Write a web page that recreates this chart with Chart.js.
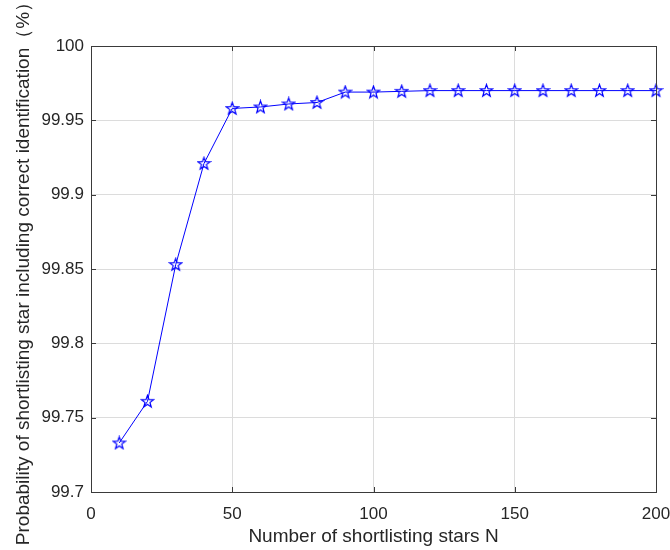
<!DOCTYPE html>
<html>
<head>
<meta charset="utf-8">
<script src="https://cdn.jsdelivr.net/npm/chart.js@4.4.0/dist/chart.umd.min.js"></script>
<style>
  html, body { margin: 0; padding: 0; background: #fff; }
  #wrap { width: 670px; height: 550px; }
</style>
</head>
<body>
<div id="wrap"><canvas id="myChart" width="670" height="550"></canvas></div>
<script>
// data
var nStars = [10, 20, 30, 40, 50, 60, 70, 80, 90, 100, 110, 120, 130, 140, 150, 160, 170, 180, 190, 200];
var probCorrect = [99.733, 99.761, 99.853, 99.921, 99.958, 99.959, 99.961, 99.962, 99.969, 99.969,
                   99.9695, 99.970, 99.970, 99.970, 99.970, 99.970, 99.970, 99.970, 99.970, 99.970];
var xTicks = [0, 50, 100, 150, 200];
var yTicks = [99.7, 99.75, 99.8, 99.85, 99.9, 99.95, 100];

var axisColor = '#262626';
var fontFam = 'Arial, "Liberation Sans", Helvetica, sans-serif';

// 5 point star outline, like matlab 'p' marker
function makeStar() {
    var c = document.createElement('canvas');
    c.width = 15; c.height = 15;
    var g = c.getContext('2d');
    var cx = 7.5, cy = 7.8, ro = 6.4, ri = 2.6;
    g.beginPath();
    for (var i = 0; i < 10; i++) {
        var r = (i % 2 === 0) ? ro : ri;
        var a = -Math.PI / 2 + i * Math.PI / 5;
        var px = cx + r * Math.cos(a), py = cy + r * Math.sin(a);
        if (i === 0) g.moveTo(px, py); else g.lineTo(px, py);
    }
    g.closePath();
    g.strokeStyle = '#0000ff';
    g.lineWidth = 1.2;
    g.stroke();
    return c;
}
var starImg = makeStar();

// box round the plot with ticks pointing in
var boxPlugin = {
    id: 'boxPlugin',
    afterDatasetsDraw: function(chart) {
        var ctx = chart.ctx, a = chart.chartArea;
        var xs = chart.scales.x, ys = chart.scales.y;
        ctx.save();
        ctx.strokeStyle = '#3a3a3a';
        ctx.lineWidth = 1;
        ctx.beginPath();
        for (var i = 0; i < xTicks.length; i++) {
            var px = Math.round(xs.getPixelForValue(xTicks[i])) + 0.5;
            ctx.moveTo(px, a.bottom); ctx.lineTo(px, a.bottom - 5);
            ctx.moveTo(px, a.top); ctx.lineTo(px, a.top + 5);
        }
        for (var j = 0; j < yTicks.length; j++) {
            var py = Math.round(ys.getPixelForValue(yTicks[j])) + 0.5;
            ctx.moveTo(a.left, py); ctx.lineTo(a.left + 5, py);
            ctx.moveTo(a.right, py); ctx.lineTo(a.right - 5, py);
        }
        ctx.stroke();
        ctx.strokeRect(Math.round(a.left) + 0.5, Math.round(a.top) + 0.5,
                       Math.round(a.right - a.left), Math.round(a.bottom - a.top));
        ctx.restore();
    }
};

var ctx = document.getElementById('myChart').getContext('2d');
var myLineChart = new Chart(ctx, {
    type: 'line',
    data: {
        datasets: [{
            label: 'prob',
            data: nStars.map(function(n, i) { return { x: n, y: probCorrect[i] }; }),
            borderColor: '#0000ff',
            borderWidth: 1,
            pointStyle: starImg,
            tension: 0,
            clip: false
        }]
    },
    options: {
        responsive: false,
        animation: false,
        layout: { padding: { top: 46, right: 14, left: 0, bottom: 0 } },
        plugins: {
            legend: { display: false },
            tooltip: { enabled: false }
        },
        scales: {
            x: {
                type: 'linear',
                min: 0, max: 200,
                afterBuildTicks: function(s) { s.ticks = xTicks.map(function(v) { return { value: v }; }); },
                afterFit: function(s) { s.height = 58; s.paddingLeft = 0; s.paddingRight = 0; },
                grid: { color: '#dcdcdc', drawTicks: false },
                border: { display: false },
                ticks: { color: axisColor, font: { family: fontFam, size: 17 }, padding: 12, maxRotation: 0 },
                title: {
                    display: true,
                    text: 'Number of shortlisting stars N',
                    color: axisColor,
                    font: { family: fontFam, size: 19 },
                    padding: { top: 0, bottom: 2 }
                }
            },
            y: {
                type: 'linear',
                min: 99.7, max: 100,
                afterBuildTicks: function(s) { s.ticks = yTicks.map(function(v) { return { value: v }; }); },
                afterFit: function(s) { s.width = 91; s.paddingTop = 0; s.paddingBottom = 0; },
                grid: { color: '#dcdcdc', drawTicks: false },
                border: { display: false },
                ticks: {
                    color: axisColor, font: { family: fontFam, size: 17 }, padding: 7,
                    callback: function(v) { return String(+v.toFixed(2)); }
                },
                title: {
                    display: true,
                    text: 'Probability of shortlisting star including correct identification（%）',
                    color: axisColor,
                    font: { family: fontFam, size: 19 },
                    padding: { top: 12, bottom: 0 }
                }
            }
        }
    },
    plugins: [boxPlugin]
});
</script>
</body>
</html>
